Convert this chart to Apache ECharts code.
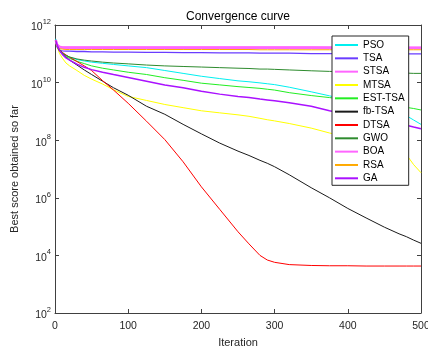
<!DOCTYPE html>
<html>
<head>
<meta charset="utf-8">
<script src="https://cdn.jsdelivr.net/npm/echarts@6/dist/echarts.min.js"></script>
<style>
html,body{margin:0;padding:0;background:#fff;}
#chart{width:428px;height:349px;}
</style>
</head>
<body>
<div id="chart"></div>
<script>
const iterations = [1,3,6,10,15,20,30,40,50,65,80,100,125,150,175,200,225,250,265,280,290,300,320,350,375,400,425,450,470,480,490,500];

const PSO    = [3.31e11,2.24e11,1.51e11,1.1e11,8.71e10,7.59e10,6.31e10,5.62e10,5.13e10,4.68e10,4.27e10,3.8e10,3.31e10,2.63e10,2.09e10,1.66e10,1.38e10,1.15e10,1.07e10,9.77e9,9.12e9,8.51e9,6.92e9,4.79e9,3.47e9,2.51e9,1.82e9,1.32e9,9.55e8,7.08e8,5.01e8,3.55e8];
const TSA    = [2.95e11,1.66e11,1.32e11,1.26e11,1.23e11,1.23e11,1.2e11,1.2e11,1.17e11,1.17e11,1.15e11,1.15e11,1.12e11,1.12e11,1.1e11,1.1e11,1.07e11,1.07e11,1.07e11,1.05e11,1.05e11,1.05e11,1.05e11,1.02e11,1.02e11,1.02e11,1.0e11,1.0e11,1.0e11,1.0e11,1.0e11,1.0e11];
const STSA   = [3.02e11,2.09e11,1.78e11,1.7e11,1.7e11,1.7e11,1.7e11,1.7e11,1.7e11,1.7e11,1.7e11,1.7e11,1.7e11,1.7e11,1.7e11,1.7e11,1.7e11,1.7e11,1.7e11,1.7e11,1.7e11,1.7e11,1.68e11,1.68e11,1.68e11,1.68e11,1.68e11,1.66e11,1.66e11,1.66e11,1.66e11,1.66e11];
const MTSA   = [2.82e11,1.78e11,1.05e11,7.08e10,4.79e10,3.8e10,2.63e10,1.78e10,1.32e10,8.91e9,5.62e9,3.31e9,2.4e9,1.74e9,1.35e9,1.05e9,8.91e8,7.59e8,6.76e8,5.75e8,5.13e8,4.68e8,3.8e8,2.63e8,1.78e8,1.32e8,1.0e8,7.08e7,5.01e7,3.16e7,1.41e7,7.41e6];
const ESTTSA = [2.88e11,2.0e11,1.32e11,1.0e11,7.94e10,6.92e10,5.5e10,4.57e10,3.8e10,3.16e10,2.75e10,2.29e10,1.91e10,1.48e10,1.2e10,9.55e9,8.32e9,7.24e9,6.76e9,6.31e9,5.89e9,5.5e9,4.47e9,3.55e9,3.02e9,2.51e9,2.09e9,1.74e9,1.51e9,1.38e9,1.26e9,1.12e9];
const FBTSA  = [2.82e11,1.78e11,1.26e11,1.0e11,7.59e10,6.03e10,4.07e10,2.75e10,1.91e10,1.12e10,6.61e9,3.63e9,1.51e9,7.94e8,3.55e8,1.66e8,7.94e7,4.17e7,2.95e7,2.0e7,1.58e7,1.2e7,6.31e6,2.24e6,1.0e6,4.27e5,2.0e5,9.55e4,5.62e4,4.47e4,3.39e4,2.63e4];
const DTSA   = [2.82e11,1.91e11,1.41e11,1.12e11,9.12e10,7.59e10,5.37e10,3.8e10,2.63e10,1.17e10,5.5e9,1.91e9,4.57e8,1.05e8,1.78e7,2.4e6,3.98e5,6.61e4,2.51e4,1.0e4,6.92e3,5.75e3,4.79e3,4.47e3,4.37e3,4.37e3,4.27e3,4.27e3,4.27e3,4.27e3,4.27e3,4.27e3];
const GWO    = [2.88e11,2.0e11,1.41e11,1.05e11,8.71e10,7.76e10,6.61e10,6.03e10,5.62e10,5.13e10,4.79e10,4.47e10,4.07e10,3.8e10,3.63e10,3.47e10,3.31e10,3.16e10,3.09e10,2.95e10,2.95e10,2.88e10,2.75e10,2.57e10,2.45e10,2.34e10,2.24e10,2.19e10,2.14e10,2.14e10,2.09e10,2.09e10];
const BOA    = [3.02e11,2.0e11,1.7e11,1.62e11,1.62e11,1.62e11,1.62e11,1.62e11,1.62e11,1.62e11,1.62e11,1.62e11,1.62e11,1.62e11,1.62e11,1.62e11,1.62e11,1.62e11,1.62e11,1.61e11,1.61e11,1.61e11,1.61e11,1.61e11,1.6e11,1.6e11,1.6e11,1.6e11,1.6e11,1.6e11,1.6e11,1.6e11];
const RSA    = [2.88e11,1.78e11,1.51e11,1.45e11,1.41e11,1.41e11,1.41e11,1.41e11,1.41e11,1.41e11,1.41e11,1.41e11,1.41e11,1.41e11,1.41e11,1.41e11,1.41e11,1.41e11,1.41e11,1.38e11,1.38e11,1.38e11,1.38e11,1.38e11,1.38e11,1.38e11,1.38e11,1.38e11,1.38e11,1.38e11,1.38e11,1.38e11];
const GA     = [2.88e11,2.0e11,1.32e11,9.55e10,7.24e10,6.03e10,4.37e10,3.39e10,2.82e10,2.29e10,1.91e10,1.51e10,1.12e10,8.32e9,6.61e9,5.01e9,3.98e9,3.31e9,3.02e9,2.69e9,2.51e9,2.34e9,2.0e9,1.51e9,1.05e9,7.94e8,6.03e8,4.57e8,3.72e8,3.31e8,2.88e8,2.51e8];

const xTicks = [0,100,200,300,400,500];
const yTickExponents = [2,4,6,8,10,12];

const seriesDefs = [
  {name:'PSO', data:PSO, color:'#00f0f0', width:1},
  {name:'TSA', data:TSA, color:'#6a3cff', width:1.3},
  {name:'STSA', data:STSA, color:'#ff66ff', width:2},
  {name:'MTSA', data:MTSA, color:'#ffff00', width:1},
  {name:'EST-TSA', data:ESTTSA, color:'#22ee22', width:1},
  {name:'fb-TSA', data:FBTSA, color:'#1a1a1a', width:1},
  {name:'DTSA', data:DTSA, color:'#ff0000', width:1},
  {name:'GWO', data:GWO, color:'#2e8b2e', width:1},
  {name:'BOA', data:BOA, color:'#ff66ff', width:2.5},
  {name:'RSA', data:RSA, color:'#ffaa00', width:1},
  {name:'GA', data:GA, color:'#aa11ff', width:1.5}
];

const font = 'Liberation Sans, Arial, Helvetica, sans-serif';
const axisCol = '#404040';
const txtCol = '#262626';

const chart = echarts.init(document.getElementById('chart'), null, {renderer:'canvas'});

const yRich = {
  b: {fontSize: 10.5, color: txtCol, fontFamily: font, padding: [5,0,0,0]},
  s: {fontSize: 7.5, color: txtCol, fontFamily: font, padding: [0,0,6,0]}
};

chart.setOption({
  animation: false,
  backgroundColor: '#fff',
  grid: {left: 55, right: 7, top: 25, bottom: 36, containLabel: false, outerBoundsMode: 'none'},
  xAxis: [
    {type:'value', min:0, max:500, interval:100, position:'bottom',
     name:'Iteration', nameLocation:'middle', nameGap:24,
     nameTextStyle:{fontFamily:font, fontSize:11, color:txtCol},
     axisLine:{show:true, onZero:false, lineStyle:{color:axisCol, width:1}},
     axisTick:{show:true, inside:true, length:4, lineStyle:{color:axisCol}},
     axisLabel:{show:true, color:txtCol, fontFamily:font, fontSize:10.5, margin:8},
     splitLine:{show:false}},
    {type:'value', min:0, max:500, interval:100, position:'top',
     name:'Convergence curve', nameLocation:'middle', nameGap:2,
     nameTextStyle:{fontFamily:font, fontSize:12, color:'#000'},
     axisLine:{show:true, onZero:false, lineStyle:{color:axisCol, width:1}},
     axisTick:{show:true, inside:true, length:4, lineStyle:{color:axisCol}},
     axisLabel:{show:false}, splitLine:{show:false}}
  ],
  yAxis: [
    {type:'log', logBase:10, min:1e2, max:1e12, interval:2, position:'left',
     name:'Best score obtained so far', nameLocation:'middle', nameGap:31, nameRotate:90,
     nameTextStyle:{fontFamily:font, fontSize:11, color:txtCol},
     axisLine:{show:true, onZero:false, lineStyle:{color:axisCol, width:1}},
     axisTick:{show:true, inside:true, length:4, lineStyle:{color:axisCol}},
     minorTick:{show:false},
     axisLabel:{show: true, color: txtCol, fontFamily: font, fontSize: 10.5, margin: 4,
       formatter: v => '{b|10}{s|' + Math.round(Math.log10(v)) + '}', rich: yRich},
     splitLine:{show:false}},
    {type:'log', logBase:10, min:1e2, max:1e12, interval:2, position:'right',
     axisLine:{show:true, onZero:false, lineStyle:{color:axisCol, width:1}},
     axisTick:{show:true, inside:true, length:4, lineStyle:{color:axisCol}},
     axisLabel:{show:false}, splitLine:{show:false}}
  ],
  legend: {
    show: true,
    orient:'vertical', left:332, top:36,
    data: seriesDefs.map(s => ({name: s.name, icon: 'rect'})),
    itemWidth:23, itemHeight:2, itemGap:3.33,
    padding:[4,4,2,3],
    backgroundColor:'#fff', borderColor:'#262626', borderWidth:1, borderRadius:0,
    textStyle:{fontFamily:font, fontSize:10, color:'#000'}
  },
  series: seriesDefs.map(s => ({
    name: s.name, type:'line', xAxisIndex:0, yAxisIndex:0,
    data: iterations.map((x,i) => [x, s.data[i]]),
    showSymbol:false, symbol:'none',
    color: s.color,
    itemStyle:{color:s.color},
    lineStyle:{color:s.color, width:s.width},
    emphasis:{disabled:true}
  }))
});
</script>
</body>
</html>
